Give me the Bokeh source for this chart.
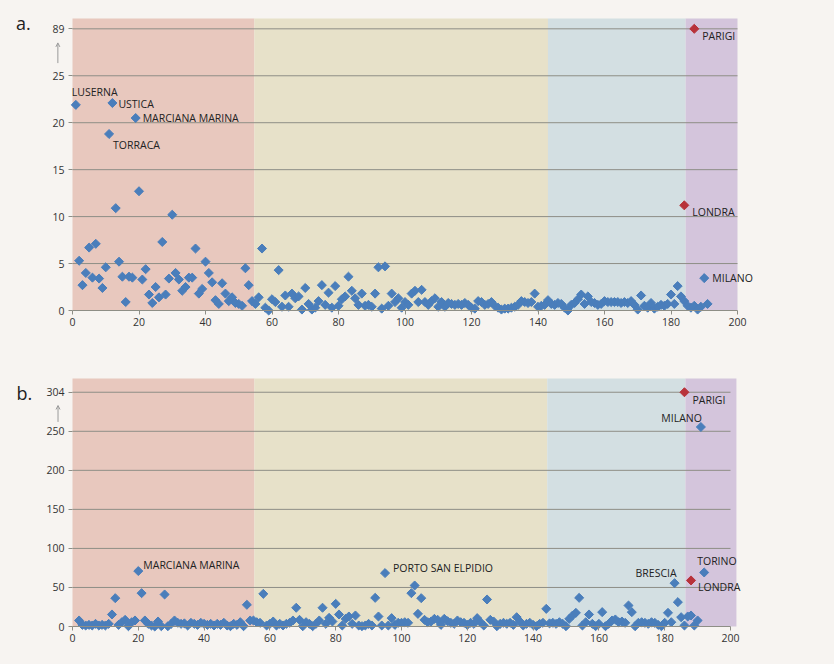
import math
from bokeh.plotting import figure
from bokeh.layouts import column
from bokeh.models import FixedTicker, Label, Arrow, OpenHead, BoxAnnotation
from bokeh.embed import file_html
from bokeh.resources import INLINE

# ---------------- data ----------------
x_ticks = [0, 20, 40, 60, 80, 100, 120, 140, 160, 180, 200]

# panel a: broken y axis, top tick shows 89
a_y_ticks = [0, 5, 10, 15, 20, 25, 30]
a_y_labels = ["0", "5", "10", "15", "20", "25", "89"]
a_blue_x = list(range(1, 192))
a_blue_y = [
    21.9, 5.3, 2.7, 4.0, 6.7, 3.5, 7.1, 3.4, 2.4, 4.6,
    18.8, 22.1, 10.9, 5.2, 3.6, 0.9, 3.6, 3.5, 20.5, 12.7,
    3.3, 4.4, 1.7, 0.8, 2.5, 1.4, 7.3, 1.7, 3.4, 10.2,
    4.0, 3.3, 2.1, 2.5, 3.5, 3.5, 6.6, 1.8, 2.3, 5.2,
    4.0, 3.0, 1.1, 0.7, 2.9, 1.8, 1.0, 1.4, 0.8, 0.7,
    0.5, 4.5, 2.7, 1.0, 0.7, 1.4, 6.6, 0.3, 0.0, 1.2,
    0.9, 4.3, 0.4, 1.6, 0.4, 1.8, 1.3, 1.5, 0.1, 2.4,
    0.7, 0.1, 0.3, 1.0, 2.7, 0.6, 1.9, 0.3, 2.6, 0.5,
    1.2, 1.5, 3.6, 2.1, 1.3, 0.6, 1.8, 0.5, 0.6, 0.4,
    1.8, 4.6, 0.2, 4.7, 0.5, 1.8, 0.9, 1.3, 0.3, 0.9,
    0.6, 1.8, 2.1, 0.9, 2.2, 0.9, 0.6, 1.0, 1.3, 0.4,
    0.9, 0.4, 0.8, 0.7, 0.6, 0.7, 0.6, 0.8, 0.6, 0.3,
    0.2, 1.0, 0.9, 0.6, 0.7, 0.9, 0.5, 0.3, 0.1, 0.2,
    0.2, 0.3, 0.4, 0.6, 1.0, 0.9, 0.8, 0.9, 1.8, 0.4,
    0.5, 0.6, 1.1, 0.7, 0.6, 0.8, 0.7, 0.3, 0.0, 0.6,
    0.8, 1.2, 1.7, 0.7, 1.5, 0.9, 0.8, 0.6, 0.7, 1.0,
    0.9, 0.9, 0.9, 0.9, 0.8, 0.9, 0.8, 1.0, 0.6, 0.1,
    1.6, 0.5, 0.3, 0.8, 0.2, 0.4, 0.6, 0.5, 0.7, 1.7,
    0.7, 2.6, 1.5, 1.0, 0.5, 0.3, 0.5, 0.1, 0.4, 3.45,
    0.7,
]
a_red_x = [184, 187]
a_red_y = [11.2, 89]
a_bands = [0, 54.7, 143.0, 184.4, 200]
a_names = ["LUSERNA", "USTICA", "MARCIANA MARINA", "TORRACA", "MILANO"]
a_name_x = [1, 12, 19, 11, 190]
a_red_names = ["LONDRA", "PARIGI"]

# panel b: broken y axis, top tick shows 304
b_y_ticks = [0, 50, 100, 150, 200, 250, 300]
b_y_labels = ["0", "50", "100", "150", "200", "250", "304"]
b_blue_x = list(range(2, 193))
b_blue_y = [
    7.7, 2.1, 1.3, 2.1, 1.3, 3.4, 1.3, 2.1, 1.3, 3.4,
    15.4, 36.3, 2.1, 5.5, 8.5, 0.4, 5.5, 7.7, 71.0, 42.7,
    7.7, 3.4, 1.3, 0.0, 6.4, 0.4, 41.0, 0.4, 3.4, 7.7,
    4.7, 3.4, 4.0, 1.3, 4.7, 3.4, 2.1, 4.7, 3.4, 2.1,
    3.4, 1.3, 3.4, 2.1, 4.7, 1.3, 0.4, 3.4, 2.1, 5.5,
    0.4, 27.8, 7.7, 7.7, 5.5, 4.7, 41.8, 1.3, 3.4, 6.4,
    1.3, 3.4, 1.3, 3.4, 4.7, 7.7, 24.0, 8.5, 0.4, 5.5,
    3.4, 0.4, 3.4, 7.7, 24.0, 3.4, 11.1, 6.4, 29.0, 15.4,
    1.3, 9.8, 12.8, 3.4, 14.1, 1.3, 0.4, 1.3, 3.4, 1.3,
    36.7, 12.8, 1.3, 68.4, 1.3, 10.7, 2.1, 4.7, 4.7, 5.5,
    4.7, 42.7, 52.5, 16.2, 36.3, 8.5, 5.5, 6.4, 9.8, 8.5,
    2.1, 9.8, 6.8, 4.7, 3.4, 7.7, 5.5, 4.7, 2.1, 4.7,
    3.4, 10.7, 5.5, 1.3, 34.6, 8.5, 6.4, 0.4, 3.4, 4.7,
    3.4, 4.7, 2.1, 11.9, 6.4, 1.3, 3.4, 4.7, 2.1, 0.4,
    3.4, 4.7, 22.6, 4.0, 4.7, 3.4, 5.5, 3.4, 0.4, 9.8,
    14.1, 17.5, 36.7, 1.3, 5.5, 15.4, 3.4, 0.4, 3.4, 18.4,
    0.4, 3.4, 7.7, 9.0, 5.5, 6.4, 4.7, 26.9, 18.4, 0.4,
    4.7, 5.5, 4.7, 3.4, 5.5, 4.7, 2.1, 0.4, 4.7, 17.5,
    5.5, 55.5, 31.2, 11.9, 1.3, 12.8, 14.1, 1.3, 7.7, 255.5,
    69.2,
]
b_red_x = [186, 188]
b_red_y = [304, 59]
b_bands = [0, 55.3, 144.3, 186.3, 201.8]
b_names = ["MARCIANA MARINA", "PORTO SAN ELPIDIO", "MILANO", "BRESCIA", "TORINO"]
b_name_x = [20, 95, 191, 183, 192]
b_red_names = ["PARIGI", "LONDRA"]

# ---------------- style ----------------
W = 834
PAGE = "#F7F4F1"
BAND_COLORS = ["#E8C8BE", "#E7E1C9", "#D3DFE2", "#D4C5DC"]
GRID = "#8E8E86"
BLUE = "#4A7EBB"
RED = "#B8323A"
FONT = "Open Sans"
TXT = "#222222"


def disp(v, ticks):
    # broken axis: values above the last regular tick sit on the top tick
    return min(v, ticks[-1])


def make_panel(h, bottom_px, x0_px, xscale, band_top, top_gap_px, yt, ylabels,
               bands, bx, by, rx, ry, names, name_x, red_names, blue_off, red_off,
               letter, letter_off, arrow_frac):
    zero_px = h - bottom_px
    ppu = (zero_px - top_gap_px) / band_top
    y_start = -bottom_px / ppu
    y_end = zero_px / ppu
    x_start = -x0_px / xscale
    x_end = (W - x0_px) / xscale
    p = figure(width=W, height=h, x_range=(x_start, x_end), y_range=(y_start, y_end),
               output_backend="svg", toolbar_location=None,
               background_fill_color=PAGE, border_fill_color=PAGE,
               outline_line_color=None,
               min_border_left=0, min_border_right=0,
               min_border_top=0, min_border_bottom=0)
    p.grid.visible = False
    for i in range(len(bands) - 1):
        p.add_layout(BoxAnnotation(left=bands[i], right=bands[i + 1],
                                   bottom=0, top=band_top,
                                   fill_color=BAND_COLORS[i], fill_alpha=1.0,
                                   line_color=None, level="underlay"))
    gy = yt[1:]
    p.segment(x0=[x_ticks[0]] * len(gy), x1=[x_ticks[-1]] * len(gy),
              y0=gy, y1=gy, line_color=GRID, line_width=1)

    p.xaxis.ticker = FixedTicker(ticks=x_ticks)
    p.xaxis.bounds = (x_ticks[0], x_ticks[-1])
    p.xaxis.fixed_location = 0
    p.yaxis.ticker = FixedTicker(ticks=yt)
    p.yaxis.bounds = (yt[0], yt[-1])
    p.yaxis.fixed_location = 0
    p.yaxis.major_label_overrides = {t: l for t, l in zip(yt, ylabels)}
    for ax in (p.xaxis[0], p.yaxis[0]):
        ax.major_tick_line_color = GRID
        ax.major_tick_out = 4
        ax.major_tick_in = 0
        ax.minor_tick_line_color = None
        ax.major_label_text_font = FONT
        ax.major_label_text_font_size = "10.5px"
        ax.major_label_text_color = "#333333"
    p.xaxis.axis_line_color = GRID
    p.xaxis.major_label_standoff = 3
    p.yaxis.axis_line_color = None
    p.yaxis.major_label_standoff = 4

    p.scatter(bx, [disp(v, yt) for v in by], marker="square", angle=math.pi / 4,
              size=6.4, fill_color=BLUE, line_color=BLUE)
    p.scatter(rx, [disp(v, yt) for v in ry], marker="square", angle=math.pi / 4,
              size=6.4, fill_color=RED, line_color=RED)

    for n, xv, (dx, dy, al) in zip(names, name_x, blue_off):
        yv = disp(by[bx.index(xv)], yt)
        p.add_layout(Label(x=xv, y=yv, text=n, x_offset=dx, y_offset=dy,
                           text_align=al, text_baseline="middle",
                           text_font=FONT, text_font_size="10.5px", text_color=TXT))
    for n, xv, yv0, (dx, dy, al) in zip(red_names, rx, ry, red_off):
        p.add_layout(Label(x=xv, y=disp(yv0, yt), text=n, x_offset=dx, y_offset=dy,
                           text_align=al, text_baseline="middle",
                           text_font=FONT, text_font_size="10.5px", text_color=TXT))

    p.add_layout(Label(x=-17, y=band_top, text=letter, y_offset=letter_off,
                       text_align="left", text_baseline="alphabetic",
                       text_font=FONT, text_font_size="18px", text_color="#222222"))
    lo, hi = yt[-2], yt[-1]
    p.add_layout(Arrow(x_start=-4.4, x_end=-4.4,
                       y_start=lo + arrow_frac[0] * (hi - lo),
                       y_end=lo + arrow_frac[1] * (hi - lo),
                       line_color="#9A9A9A", line_width=1,
                       end=OpenHead(size=4, line_color="#9A9A9A", line_width=1)))
    return p


pa = make_panel(340, 30, 72, 3.325, 31.1, 18, a_y_ticks, a_y_labels, a_bands,
                a_blue_x, a_blue_y, a_red_x, a_red_y,
                a_names, a_name_x, a_red_names,
                [(-4, 13, "left"), (6, -1, "left"), (7, 0, "left"),
                 (4, -11, "left"), (8, 0, "left")],
                [(8, -7, "left"), (8, -7, "left")],
                "a.", -4, (0.27, 0.7))

pb = make_panel(324, 38, 72, 3.29, 317.6, 38, b_y_ticks, b_y_labels, b_bands,
                b_blue_x, b_blue_y, b_red_x, b_red_y,
                b_names, b_name_x, b_red_names,
                [(5, 6, "left"), (8, 5, "left"), (1, 9, "right"),
                 (2, 10, "right"), (-7, 11, "left")],
                [(8, -8, "left"), (7, -7, "left")],
                "b.", -14, (0.24, 0.66))

layout = column(pa, pb, spacing=0, styles={"background-color": PAGE})
open("out.html", "w").write(file_html(layout, INLINE))
